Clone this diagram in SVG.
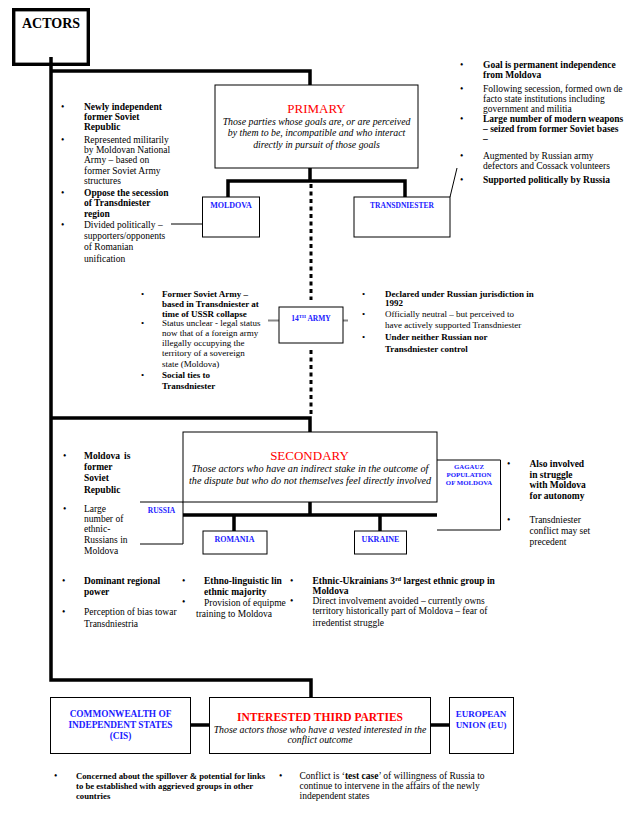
<svg xmlns="http://www.w3.org/2000/svg" width="641" height="817" viewBox="0 0 641 817">
<style>
text{font-family:"Liberation Serif","Times New Roman",serif;fill:#000}
.b{font-weight:bold}
.t{font-size:9.5px}
.s{font-size:9px}
.i{font-style:italic;font-size:9.8px}
.red{fill:#ff0000;font-size:13px}
.blue{fill:#2020ff;font-weight:bold}
.box{fill:#fff;stroke:#000;stroke-width:1}
.thick{fill:none;stroke:#000;stroke-width:3.5}
.thin{fill:none;stroke:#000;stroke-width:1}
.dot{fill:none;stroke:#000;stroke-width:3;stroke-dasharray:4 3.5}
.gray{fill:none;stroke:#888;stroke-width:2}
.mid{text-anchor:middle}
</style>
<rect width="641" height="817" fill="#fff"/>
<g id="connectors">
<path class="thick" d="M51,57 V680 H311 V697"/>
<path class="thick" d="M51,71 H310 V85"/>
<path class="thick" d="M310,168 V181 M228,197 V181 H405 V197"/>
<path class="dot" d="M311,184 V300 M311,350 V416"/>
<path class="gray" d="M268,320.5 H279 M343,320.5 H348"/>
<path class="thick" d="M51,418 H310 V432"/>
<path class="thick" d="M310,502 V515 M183,515 H437 M234,515 V531 M380,515 V531"/>
<path class="thin" d="M171,224 H202"/>
<path class="thin" d="M450,197 L457,168"/>
<path class="thick" d="M191,725 H209 M431,725 H449"/>
</g>
<g id="actors">
<rect x="13.7" y="9.7" width="74.6" height="54.6" fill="#fff" stroke="#000" stroke-width="3.4"/>
<path class="thick" d="M51,57 V66"/>
<text x="22" y="28" class="b" font-size="14">ACTORS</text>
</g>
<g id="primary">
<rect class="box" x="215" y="85" width="203" height="83"/>
<text x="316.5" y="113" class="red mid">PRIMARY</text>
<text class="i mid"><tspan x="316.5" y="124.5">Those parties whose goals are, or are perceived</tspan><tspan x="316.5" y="135.5">by them to be, incompatible and who interact</tspan><tspan x="316.5" y="147.5">directly in pursuit of those goals</tspan></text>
</g>
<g id="moldova">
<rect class="box" x="202.5" y="197" width="57" height="40"/>
<text x="231" y="207.5" class="blue mid" font-size="8">MOLDOVA</text>
</g>
<g id="moldova-notes">
<text class="t"><tspan x="61" y="110">•</tspan><tspan x="61" y="142.5">•</tspan><tspan x="61" y="196">•</tspan><tspan x="61" y="228">•</tspan></text>
<text class="t b"><tspan x="84" y="109.5">Newly independent</tspan><tspan x="84" y="120">former Soviet</tspan><tspan x="84" y="130">Republic</tspan></text>
<text class="t"><tspan x="84" y="142.5">Represented militarily</tspan><tspan x="84" y="152.5">by Moldovan National</tspan><tspan x="84" y="163">Army – based on</tspan><tspan x="84" y="174">former Soviet Army</tspan><tspan x="84" y="184">structures</tspan></text>
<text class="t b"><tspan x="84" y="196">Oppose the secession</tspan><tspan x="84" y="206">of Transdniester</tspan><tspan x="84" y="216.5">region</tspan></text>
<text class="t"><tspan x="84" y="228">Divided politically –</tspan><tspan x="84" y="239">supporters/opponents</tspan><tspan x="84" y="250">of Romanian</tspan><tspan x="84" y="261.5">unification</tspan></text>
</g>
<g id="transdniester">
<rect class="box" x="354" y="197" width="96" height="40"/>
<text x="402" y="207.5" class="blue mid" font-size="7.5">TRANSDNIESTER</text>
</g>
<g id="transdniester-notes">
<text class="t"><tspan x="460" y="68">•</tspan><tspan x="460" y="91.5">•</tspan><tspan x="460" y="121.5">•</tspan><tspan x="460" y="159">•</tspan><tspan x="460" y="183">•</tspan></text>
<text class="t b"><tspan x="483" y="68">Goal is permanent independence</tspan><tspan x="483" y="78">from Moldova</tspan></text>
<text class="t"><tspan x="483" y="91.5">Following secession, formed own de</tspan><tspan x="483" y="101.5">facto state institutions including</tspan><tspan x="483" y="111.5">government and militia</tspan></text>
<text class="t b"><tspan x="483" y="121.5">Large number of modern weapons</tspan><tspan x="483" y="131.5">–  seized from former Soviet bases</tspan><tspan x="483" y="142">–</tspan></text>
<text class="t"><tspan x="483" y="159">Augmented by Russian army</tspan><tspan x="483" y="169">defectors  and Cossack volunteers</tspan></text>
<text class="t b" x="483" y="183">Supported politically by Russia</text>
</g>
<g id="army14">
<rect class="box" x="279" y="307" width="64" height="36"/>
<text x="311" y="320.5" class="blue mid" font-size="7.5">14<tspan font-size="5" dy="-3">TH</tspan><tspan dy="3"> ARMY</tspan></text>
</g>
<g id="army14-notes">
<text class="s"><tspan x="141" y="297">•</tspan><tspan x="141" y="326">•</tspan><tspan x="141" y="378">•</tspan></text>
<text class="s b"><tspan x="162" y="297">Former Soviet Army –</tspan><tspan x="162" y="307">based in Transdniester at</tspan><tspan x="162" y="316.5">time of USSR collapse</tspan></text>
<text class="s"><tspan x="162" y="326">Status unclear - legal status</tspan><tspan x="162" y="336">now that of a foreign army</tspan><tspan x="162" y="346">illegally occupying the</tspan><tspan x="162" y="356">territory of a sovereign</tspan><tspan x="162" y="366.5">state (Moldova)</tspan></text>
<text class="s b"><tspan x="162" y="378">Social ties to</tspan><tspan x="162" y="389">Transdniester</tspan></text>
<text class="s"><tspan x="362" y="297">•</tspan><tspan x="362" y="317">•</tspan><tspan x="362" y="340">•</tspan></text>
<text class="s b"><tspan x="385" y="297">Declared under Russian jurisdiction in</tspan><tspan x="385" y="306">1992</tspan></text>
<text class="s"><tspan x="385" y="317">Officially neutral – but perceived to</tspan><tspan x="385" y="327.5">have actively supported Transdniester</tspan></text>
<text class="s b"><tspan x="385" y="340">Under neither Russian nor</tspan><tspan x="385" y="351.5">Transdniester control</tspan></text>
</g>
<g id="secondary">
<rect class="box" x="183" y="432" width="254" height="70"/>
<text x="309.5" y="460" class="red mid">SECONDARY</text>
<text class="i mid" font-size="10.2" style="font-size:10.2px"><tspan x="310" y="472">Those actors who have an indirect stake in the outcome of</tspan><tspan x="310" y="484">the dispute but who do not themselves feel directly involved</tspan></text>
</g>
<g id="russia">
<path class="thin" d="M140,502 H183 V544 H140"/>
<text x="161.5" y="513" class="blue mid" font-size="7.5">RUSSIA</text>
</g>
<g id="russia-notes">
<text class="t"><tspan x="63" y="458.5">•</tspan><tspan x="63" y="512">•</tspan></text>
<text class="t b"><tspan x="84" y="458.5">Moldova</tspan><tspan x="124" y="458.5">is</tspan><tspan x="84" y="470">former</tspan><tspan x="84" y="481">Soviet</tspan><tspan x="84" y="492.5">Republic</tspan></text>
<text class="t"><tspan x="84" y="512">Large</tspan><tspan x="84" y="522">number of</tspan><tspan x="84" y="532">ethnic-</tspan><tspan x="84" y="542.5">Russians in</tspan><tspan x="84" y="554">Moldova</tspan></text>
<text class="t"><tspan x="62" y="583.5">•</tspan><tspan x="62" y="615">•</tspan></text>
<text class="t b"><tspan x="84" y="583.5">Dominant regional</tspan><tspan x="84" y="594.5">power</tspan></text>
<text class="t"><tspan x="84" y="615">Perception of bias towar</tspan><tspan x="84" y="626.5">Transdniestria</tspan></text>
</g>
<g id="romania">
<rect class="box" x="203" y="531" width="64" height="23"/>
<text x="234.5" y="542" class="blue mid" font-size="8">ROMANIA</text>
</g>
<g id="romania-notes">
<text class="t"><tspan x="182" y="583.5">•</tspan><tspan x="182" y="605">•</tspan></text>
<text class="t b"><tspan x="204" y="583.5">Ethno-linguistic lin</tspan><tspan x="204" y="594.5">ethnic majority</tspan></text>
<text class="t"><tspan x="204" y="605.5">Provision of equipme</tspan><tspan x="196" y="616.5">training to Moldova</tspan></text>
</g>
<g id="ukraine">
<rect class="box" x="354.5" y="531" width="52" height="23"/>
<text x="380.5" y="542" class="blue mid" font-size="8">UKRAINE</text>
</g>
<g id="ukraine-notes">
<text class="t"><tspan x="290" y="583.5">•</tspan><tspan x="290" y="603.5">•</tspan></text>
<text class="t b"><tspan x="312.5" y="583.5">Ethnic-Ukrainians 3<tspan font-size="6" dy="-3">rd</tspan><tspan dy="3"> largest ethnic group in</tspan></tspan><tspan x="312.5" y="593.5">Moldova</tspan></text>
<text class="t"><tspan x="312.5" y="603.5">Direct involvement avoided – currently owns</tspan><tspan x="312.5" y="613.5">territory historically part of Moldova – fear of</tspan><tspan x="312.5" y="626">irredentist struggle</tspan></text>
</g>
<g id="gagauz">
<path class="thin" d="M437,460 H500.5 V530 H437"/>
<text class="blue mid" font-size="6.8"><tspan x="469" y="468.5">GAGAUZ</tspan><tspan x="469" y="476.5">POPULATION</tspan><tspan x="469" y="484.5">OF MOLDOVA</tspan></text>
</g>
<g id="gagauz-notes">
<text class="t"><tspan x="507" y="467">•</tspan><tspan x="507" y="523">•</tspan></text>
<text class="t b"><tspan x="529.5" y="467">Also involved</tspan><tspan x="529.5" y="477.5">in struggle</tspan><tspan x="529.5" y="488">with Moldova</tspan><tspan x="529.5" y="499">for autonomy</tspan></text>
<text class="t"><tspan x="529.5" y="523">Transdniester</tspan><tspan x="529.5" y="533.5">conflict may set</tspan><tspan x="529.5" y="545">precedent</tspan></text>
</g>
<g id="third-parties">
<rect class="box" x="209.5" y="697.5" width="221" height="56"/>
<text x="320" y="721" class="mid b" font-size="11.5" style="fill:#ff0000">INTERESTED  THIRD PARTIES</text>
<text class="i mid"><tspan x="320" y="732.5">Those actors those who have a vested interested in the</tspan><tspan x="320" y="742.5">conflict outcome</tspan></text>
</g>
<g id="cis">
<rect class="box" x="50.5" y="697.5" width="140" height="56"/>
<text class="blue mid" font-size="9.3"><tspan x="120.5" y="717">COMMONWEALTH OF</tspan><tspan x="120.5" y="727.5">INDEPENDENT STATES</tspan><tspan x="120.5" y="738.5">(CIS)</tspan></text>
</g>
<g id="eu">
<rect class="box" x="449.5" y="697.5" width="64" height="56"/>
<text class="blue mid" font-size="9"><tspan x="481" y="717">EUROPEAN</tspan><tspan x="481" y="727.5">UNION (EU)</tspan></text>
</g>
<g id="bottom-notes">
<text class="t"><tspan x="54" y="778.5">•</tspan><tspan x="279" y="778.5">•</tspan></text>
<text class="b" font-size="8.7"><tspan x="76" y="778.5">Concerned about the spillover &amp; potential for links</tspan><tspan x="76" y="788.5">to be established with aggrieved groups in other</tspan><tspan x="76" y="798.5">countries</tspan></text>
<text class="t"><tspan x="299.5" y="778.5">Conflict is ‘<tspan class="b">test case</tspan>’ of willingness of Russia to</tspan><tspan x="299.5" y="788.5">continue to intervene in the affairs of the newly</tspan><tspan x="299.5" y="798.5">independent states</tspan></text>
</g>
</svg>
